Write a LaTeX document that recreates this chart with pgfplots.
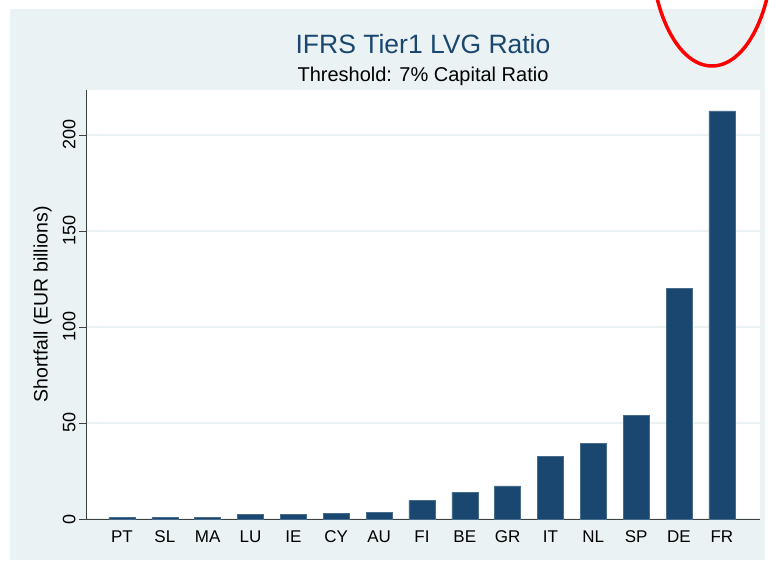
\documentclass[border=0pt]{standalone}
\usepackage{pgfplots}
\pgfplotsset{compat=1.18}
\usepackage{fontspec}
\setmainfont{Liberation Sans}
\definecolor{stnavy}{HTML}{1A476F}
\definecolor{stbg}{HTML}{EAF2F3}
\definecolor{axgray}{HTML}{404040}
\begin{document}
\begin{tikzpicture}
\useasboundingbox (0pt,0pt) rectangle (769pt,563pt);
\fill[white] (0pt,0pt) rectangle (769pt,563pt);
\fill[stbg] (10pt,3pt) rectangle (765pt,554pt);
\begin{axis}[at={(86pt,44pt)}, anchor=south west, scale only axis,
  width=674pt, height=429pt,
  xmin=-0.84, xmax=14.89, ymin=0, ymax=223.4,
  axis background/.style={fill=white},
  axis x line*=bottom, axis y line*=left,
  axis line style={draw=axgray, line width=0.7pt},
  ybar, bar width=26pt,
  xtick={0,...,14},
  xticklabels={PT,SL,MA,LU,IE,CY,AU,FI,BE,GR,IT,NL,SP,DE,FR},
  x tick style={draw=none},
  xticklabel style={font=\fontsize{17}{19}\selectfont, yshift=-1pt},
  ytick={0,50,100,150,200},
  y tick style={draw=axgray, line width=0.7pt},
  tick align=outside, major tick length=7pt,
  yticklabel style={rotate=90, anchor=south, font=\fontsize{18}{20}\selectfont, xshift=0pt},
  /pgf/number format/assume math mode=true,
  ymajorgrids, grid style={draw=stbg, line width=1.2pt},
  clip=false,
]
\addplot[fill=stnavy, draw=stnavy!80!white] coordinates {
(0,0.8) (1,0.8) (2,0.8) (3,2.6) (4,2.6) (5,2.9) (6,3.5) (7,9.7)
(8,13.9) (9,17.2) (10,32.8) (11,39.3) (12,53.9) (13,120.2) (14,212.5)};
\end{axis}
\node[text=stnavy, font=\fontsize{26.5}{30}\selectfont] at (423pt,519pt) {IFRS Tier1 LVG Ratio};
\node[text=black, font=\fontsize{20}{22}\selectfont] at (423pt,487pt) {Threshold: 7\% Capital Ratio};
\node[rotate=90, font=\fontsize{19.5}{22}\selectfont] at (42.5pt,258.5pt) {Shortfall (EUR billions)};
\begin{scope}
\clip (0pt,0pt) rectangle (769pt,563pt);
\draw[red, line width=3.5pt] (712pt,617pt) ellipse [x radius=61pt, y radius=120pt];
\end{scope}
\end{tikzpicture}
\end{document}
